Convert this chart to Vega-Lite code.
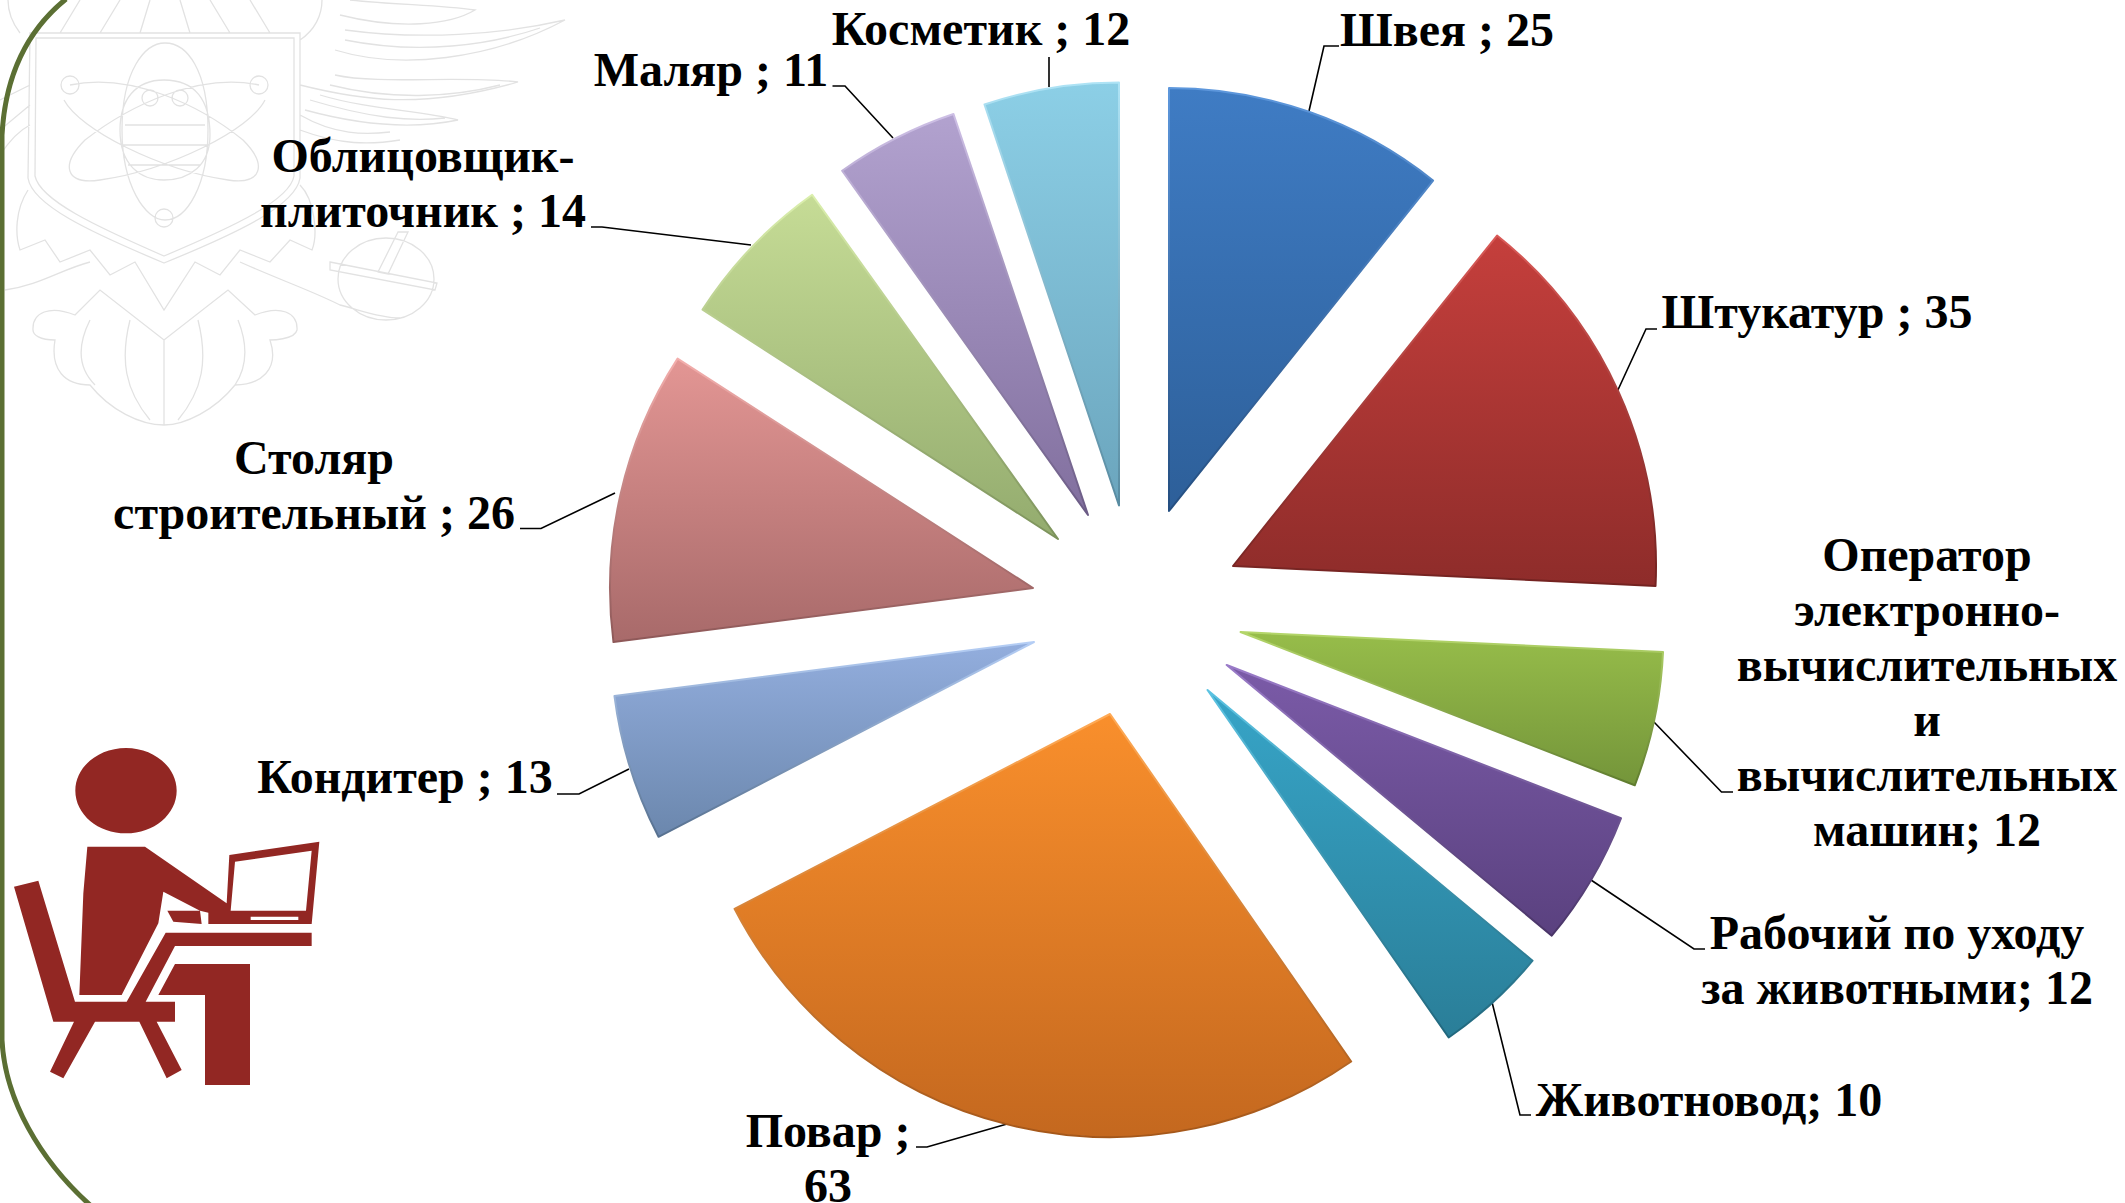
{"$schema":"https://vega.github.io/schema/vega-lite/v6.json","width":2125,"height":1203,"padding":0,"autosize":{"type":"none"},"background":"#ffffff","config":{"view":{"stroke":null}},
"data":{"values":[
{"order":1,"profession":"Швея","count":25,"label":"Швея ; 25"},
{"order":2,"profession":"Штукатур","count":35,"label":"Штукатур ; 35"},
{"order":3,"profession":"Оператор электронно-вычислительных и вычислительных машин","count":12,"label":"Оператор\nэлектронно-\nвычислительных\nи\nвычислительных\nмашин; 12"},
{"order":4,"profession":"Рабочий по уходу за животными","count":12,"label":"Рабочий по уходу\nза животными; 12"},
{"order":5,"profession":"Животновод","count":10,"label":"Животновод; 10"},
{"order":6,"profession":"Повар","count":63,"label":"Повар ;\n63"},
{"order":7,"profession":"Кондитер","count":13,"label":"Кондитер ; 13"},
{"order":8,"profession":"Столяр строительный","count":26,"label":"Столяр\nстроительный ; 26"},
{"order":9,"profession":"Облицовщик-плиточник","count":14,"label":"Облицовщик-\nплиточник ; 14"},
{"order":10,"profession":"Маляр","count":11,"label":"Маляр ; 11"},
{"order":11,"profession":"Косметик","count":12,"label":"Косметик ; 12"}
]},
"transform":[{"stack":"count","sort":[{"field":"order","order":"ascending"}],"as":["a0","a1"]}],
"layer":[
{"data":{"values":[{"part":"emblem"}]},"mark":{"type":"point","filled":false,"opacity":1,"size":4000000,"stroke":"#e2e2e2","strokeWidth":1.3,"shape":"M.030,.033 L.300,.033 L.300,.178 C.296,.205 .240,.232 .164,.263 C.090,.232 .032,.205 .028,.178 Z M.036,.038 L.294,.038 L.294,.176 C.290,.200 .235,.226 .164,.256 C.095,.226 .040,.200 .035,.176 Z M.122,.130 C.122,.070 .145,.043 .165,.043 C.187,.043 .208,.070 .208,.130 C.208,.185 .187,.220 .165,.220 C.145,.220 .122,.185 .122,.130 Z M.259,.085 C.200,.072 .130,.105 .085,.140 C.060,.165 .065,.185 .100,.180 C.170,.170 .250,.130 .265,.100 M.070,.085 C.130,.072 .200,.105 .243,.140 C.268,.165 .262,.185 .228,.180 C.160,.170 .080,.130 .064,.100 M.061,.085 A.009,.009 0 1 1 .079,.085 A.009,.009 0 1 1 .061,.085 Z M.250,.085 A.009,.009 0 1 1 .268,.085 A.009,.009 0 1 1 .250,.085 Z M.155,.218 A.009,.009 0 1 1 .173,.218 A.009,.009 0 1 1 .155,.218 Z M.120,.130 C.120,.100 .135,.080 .164,.080 C.195,.080 .210,.100 .210,.135 C.210,.165 .190,.180 .164,.180 C.140,.180 .120,.165 .120,.130 Z M.142,.098 A.008,.008 0 1 1 .158,.098 A.008,.008 0 1 1 .142,.098 Z M.172,.098 A.008,.008 0 1 1 .188,.098 A.008,.008 0 1 1 .172,.098 Z M.125,.125 L.205,.125 M.122,.145 L.208,.145 M.128,.165 L.200,.165 M.300,.085 C.360,.100 .420,.110 .518,.082 C.460,.075 .380,.085 .335,.075 M.305,.110 C.360,.125 .410,.130 .458,.120 C.420,.110 .370,.110 .320,.095 M.335,.050 C.400,.070 .490,.060 .565,.020 C.500,.035 .420,.040 .345,.030 M.340,.015 C.400,.030 .450,.025 .475,.010 C.440,.005 .400,.005 .350,.000 M.300,.130 C.340,.145 .370,.145 .400,.140 M.345,.040 C.420,.055 .490,.045 .540,.028 M.330,.085 C.390,.100 .450,.098 .500,.085 M.310,.100 C.370,.118 .410,.122 .445,.118 M.300,.115 C.335,.135 .365,.135 .390,.132 M.000,.155 C.010,.140 .020,.130 .030,.125 M.000,.100 L.030,.085 M.000,.130 L.030,.105 M.020,.033 C.010,.020 .008,.010 .008,.000 M.322,.000 C.322,.015 .315,.030 .300,.040 M.060,.033 L.080,.000 M.100,.033 L.120,.000 M.140,.033 L.150,.000 M.190,.033 L.180,.000 M.230,.033 L.210,.000 M.270,.033 L.250,.000 M.028,.190 C.015,.210 .015,.235 .020,.250 L.045,.240 L.060,.262 L.090,.250 L.110,.275 L.135,.262 L.164,.310 L.195,.262 L.220,.275 L.240,.250 L.270,.262 L.290,.240 L.312,.250 C.318,.235 .315,.200 .300,.185 M.033,.330 C.032,.312 .050,.305 .075,.315 L.100,.290 L.164,.340 L.228,.290 L.255,.315 C.280,.305 .298,.312 .297,.330 C.295,.340 .270,.340 .270,.340 C.280,.370 .260,.385 .235,.385 C.215,.410 .185,.425 .164,.425 C.140,.425 .110,.410 .090,.385 C.065,.385 .050,.370 .055,.340 C.040,.340 .033,.335 .033,.330 Z M.164,.340 L.164,.425 M.130,.320 C.120,.360 .125,.390 .150,.420 M.198,.320 C.208,.360 .203,.390 .178,.420 M.090,.320 C.075,.350 .080,.370 .095,.385 M.238,.320 C.250,.350 .245,.370 .235,.385 M.005,.290 C.040,.285 .060,.270 .090,.262 M.240,.262 C.280,.280 .310,.290 .340,.305 C.360,.310 .380,.318 .400,.318 M.338,.279 A.048,.041 0 1 1 .434,.279 A.048,.041 0 1 1 .338,.279 Z M.330,.262 L.437,.283 L.435,.290 L.330,.270 Z M.398,.232 L.378,.272 L.388,.274 L.408,.232 Z"},"encoding":{"x":{"datum":0,"type":"quantitative","scale":{"domain":[0,2125]},"axis":null},"y":{"datum":0,"type":"quantitative","scale":{"domain":[1203,0]},"axis":null}}},
{"data":{"values":[{"part":"border"}]},"mark":{"type":"point","filled":false,"opacity":1,"size":4000000,"stroke":"#5b6f33","strokeWidth":5,"shape":"M.066,-.001 C.040,.020 .006,.060 .002,.135 L.002,1.040 C.005,1.100 .040,1.160 .090,1.205"},"encoding":{"x":{"datum":0,"type":"quantitative","scale":{"domain":[0,2125]},"axis":null},"y":{"datum":0,"type":"quantitative","scale":{"domain":[1203,0]},"axis":null}}},
{"data":{"values":[{"part":"icon"}]},"mark":{"type":"point","filled":true,"opacity":1,"size":444444.4,"fill":"#922723","stroke":null,"shape":"M.226,.212 A.152,.128 0 1 1 .530,.212 A.152,.128 0 1 1 .226,.212 Z M.262,.380 L.435,.380 L.680,.550 L.625,.578 L.600,.572 L.490,.515 L.475,.610 L.365,.825 L.238,.825 L.250,.520 Z M.688,.405 L.958,.365 L.935,.612 L.625,.612 L.625,.575 L.680,.550 Z M.705,.425 L.692,.572 L.918,.572 L.935,.392 Z M.752,.590 L.752,.600 L.895,.600 L.895,.590 Z M.502,.572 L.600,.572 L.605,.612 L.520,.605 Z M.497,.638 L.935,.638 L.935,.678 L.525,.678 L.437,.845 L.380,.845 Z M.042,.500 L.115,.482 L.225,.845 L.525,.845 L.525,.905 L.160,.905 Z M.222,.905 L.285,.905 L.190,1.075 L.150,1.055 Z M.418,.905 L.470,.905 L.545,1.050 L.500,1.075 Z M.525,.732 L.750,.732 L.750,1.095 L.615,1.095 L.615,.825 L.475,.825 Z"},"encoding":{"x":{"datum":0,"type":"quantitative","scale":{"domain":[0,2125]},"axis":null},"y":{"datum":720,"type":"quantitative","scale":{"domain":[1203,0]},"axis":null}}},
{"data":{"values":[{"part":"leaders"}]},"mark":{"type":"point","filled":false,"opacity":1,"size":4000000,"stroke":"#000000","strokeWidth":1.6,"shape":"M1.309,.111 L1.324,.046 L1.339,.046 M1.617,.392 L1.646,.329 L1.657,.329 M1.653,.721 L1.7215,.792 L1.733,.792 M1.591,.880 L1.694,.949 L1.705,.949 M1.492,1.002 L1.520,1.115 L1.531,1.115 M1.007,1.124 L.927,1.147 L.916,1.147 M.629,.769 L.579,.794 L.557,.794 M.615,.493 L.541,.5285 L.520,.5285 M.751,.245 L.602,.227 L.591,.227 M.893,.138 L.845,.086 L.8325,.086 M1.049,.087 L1.049,.057"},"encoding":{"x":{"datum":0,"type":"quantitative","scale":{"domain":[0,2125]},"axis":null},"y":{"datum":0,"type":"quantitative","scale":{"domain":[1203,0]},"axis":null}}},

{"transform":[{"filter":"datum.order==1"}],"mark":{"type":"arc","outerRadius":423,"strokeWidth":2,"strokeJoin":"round","fill":{"gradient":"linear","x1":0,"y1":0,"x2":0,"y2":1,"stops":[{"offset":0,"color":"#3f7cc4"},{"offset":1,"color":"#2d5f99"}]},"stroke":{"gradient":"linear","x1":0,"y1":0,"x2":0,"y2":1,"stops":[{"offset":0,"color":"#5d97dc"},{"offset":1,"color":"#244e80"}]}},"encoding":{"x":{"datum":1169,"type":"quantitative","scale":{"domain":[0,2125]},"axis":null},"y":{"datum":511,"type":"quantitative","scale":{"domain":[1203,0]},"axis":null},"theta":{"field":"a0","type":"quantitative","scale":{"domain":[0,233],"range":[0,6.28319]}},"theta2":{"field":"a1"}}},
{"transform":[{"filter":"datum.order==2"}],"mark":{"type":"arc","outerRadius":423,"strokeWidth":2,"strokeJoin":"round","fill":{"gradient":"linear","x1":0,"y1":0,"x2":0,"y2":1,"stops":[{"offset":0,"color":"#c53f3c"},{"offset":1,"color":"#8e2c2a"}]},"stroke":{"gradient":"linear","x1":0,"y1":0,"x2":0,"y2":1,"stops":[{"offset":0,"color":"#d95a57"},{"offset":1,"color":"#732220"}]}},"encoding":{"x":{"datum":1233,"type":"quantitative","scale":{"domain":[0,2125]},"axis":null},"y":{"datum":566,"type":"quantitative","scale":{"domain":[1203,0]},"axis":null},"theta":{"field":"a0","type":"quantitative","scale":{"domain":[0,233],"range":[0,6.28319]}},"theta2":{"field":"a1"}}},
{"transform":[{"filter":"datum.order==3"}],"mark":{"type":"arc","outerRadius":423,"strokeWidth":2,"strokeJoin":"round","fill":{"gradient":"linear","x1":0,"y1":0,"x2":0,"y2":1,"stops":[{"offset":0,"color":"#97bd4a"},{"offset":1,"color":"#74953a"}]},"stroke":{"gradient":"linear","x1":0,"y1":0,"x2":0,"y2":1,"stops":[{"offset":0,"color":"#b4d66a"},{"offset":1,"color":"#5f7c2e"}]}},"encoding":{"x":{"datum":1240.5,"type":"quantitative","scale":{"domain":[0,2125]},"axis":null},"y":{"datum":632,"type":"quantitative","scale":{"domain":[1203,0]},"axis":null},"theta":{"field":"a0","type":"quantitative","scale":{"domain":[0,233],"range":[0,6.28319]}},"theta2":{"field":"a1"}}},
{"transform":[{"filter":"datum.order==4"}],"mark":{"type":"arc","outerRadius":423,"strokeWidth":2,"strokeJoin":"round","fill":{"gradient":"linear","x1":0,"y1":0,"x2":0,"y2":1,"stops":[{"offset":0,"color":"#7b5ba8"},{"offset":1,"color":"#5a417f"}]},"stroke":{"gradient":"linear","x1":0,"y1":0,"x2":0,"y2":1,"stops":[{"offset":0,"color":"#9a7bc8"},{"offset":1,"color":"#493467"}]}},"encoding":{"x":{"datum":1226.7,"type":"quantitative","scale":{"domain":[0,2125]},"axis":null},"y":{"datum":665,"type":"quantitative","scale":{"domain":[1203,0]},"axis":null},"theta":{"field":"a0","type":"quantitative","scale":{"domain":[0,233],"range":[0,6.28319]}},"theta2":{"field":"a1"}}},
{"transform":[{"filter":"datum.order==5"}],"mark":{"type":"arc","outerRadius":423,"strokeWidth":2,"strokeJoin":"round","fill":{"gradient":"linear","x1":0,"y1":0,"x2":0,"y2":1,"stops":[{"offset":0,"color":"#37a5c8"},{"offset":1,"color":"#2a7e98"}]},"stroke":{"gradient":"linear","x1":0,"y1":0,"x2":0,"y2":1,"stops":[{"offset":0,"color":"#5cc3e2"},{"offset":1,"color":"#20677d"}]}},"encoding":{"x":{"datum":1207.5,"type":"quantitative","scale":{"domain":[0,2125]},"axis":null},"y":{"datum":690,"type":"quantitative","scale":{"domain":[1203,0]},"axis":null},"theta":{"field":"a0","type":"quantitative","scale":{"domain":[0,233],"range":[0,6.28319]}},"theta2":{"field":"a1"}}},
{"transform":[{"filter":"datum.order==6"}],"mark":{"type":"arc","outerRadius":423,"strokeWidth":2,"strokeJoin":"round","fill":{"gradient":"linear","x1":0,"y1":0,"x2":0,"y2":1,"stops":[{"offset":0,"color":"#f98f2c"},{"offset":1,"color":"#c4681f"}]},"stroke":{"gradient":"linear","x1":0,"y1":0,"x2":0,"y2":1,"stops":[{"offset":0,"color":"#ffaa55"},{"offset":1,"color":"#a55719"}]}},"encoding":{"x":{"datum":1110,"type":"quantitative","scale":{"domain":[0,2125]},"axis":null},"y":{"datum":714,"type":"quantitative","scale":{"domain":[1203,0]},"axis":null},"theta":{"field":"a0","type":"quantitative","scale":{"domain":[0,233],"range":[0,6.28319]}},"theta2":{"field":"a1"}}},
{"transform":[{"filter":"datum.order==7"}],"mark":{"type":"arc","outerRadius":423,"strokeWidth":2,"strokeJoin":"round","fill":{"gradient":"linear","x1":0,"y1":0,"x2":0,"y2":1,"stops":[{"offset":0,"color":"#93aede"},{"offset":1,"color":"#6b87ad"}]},"stroke":{"gradient":"linear","x1":0,"y1":0,"x2":0,"y2":1,"stops":[{"offset":0,"color":"#b5cef5"},{"offset":1,"color":"#56708f"}]}},"encoding":{"x":{"datum":1034,"type":"quantitative","scale":{"domain":[0,2125]},"axis":null},"y":{"datum":642,"type":"quantitative","scale":{"domain":[1203,0]},"axis":null},"theta":{"field":"a0","type":"quantitative","scale":{"domain":[0,233],"range":[0,6.28319]}},"theta2":{"field":"a1"}}},
{"transform":[{"filter":"datum.order==8"}],"mark":{"type":"arc","outerRadius":423,"strokeWidth":2,"strokeJoin":"round","fill":{"gradient":"linear","x1":0,"y1":0,"x2":0,"y2":1,"stops":[{"offset":0,"color":"#e39694"},{"offset":1,"color":"#a86a6a"}]},"stroke":{"gradient":"linear","x1":0,"y1":0,"x2":0,"y2":1,"stops":[{"offset":0,"color":"#f3aeac"},{"offset":1,"color":"#8e5858"}]}},"encoding":{"x":{"datum":1033,"type":"quantitative","scale":{"domain":[0,2125]},"axis":null},"y":{"datum":588,"type":"quantitative","scale":{"domain":[1203,0]},"axis":null},"theta":{"field":"a0","type":"quantitative","scale":{"domain":[0,233],"range":[0,6.28319]}},"theta2":{"field":"a1"}}},
{"transform":[{"filter":"datum.order==9"}],"mark":{"type":"arc","outerRadius":423,"strokeWidth":2,"strokeJoin":"round","fill":{"gradient":"linear","x1":0,"y1":0,"x2":0,"y2":1,"stops":[{"offset":0,"color":"#c6dc96"},{"offset":1,"color":"#93ab6e"}]},"stroke":{"gradient":"linear","x1":0,"y1":0,"x2":0,"y2":1,"stops":[{"offset":0,"color":"#dbefad"},{"offset":1,"color":"#7c925b"}]}},"encoding":{"x":{"datum":1058,"type":"quantitative","scale":{"domain":[0,2125]},"axis":null},"y":{"datum":539,"type":"quantitative","scale":{"domain":[1203,0]},"axis":null},"theta":{"field":"a0","type":"quantitative","scale":{"domain":[0,233],"range":[0,6.28319]}},"theta2":{"field":"a1"}}},
{"transform":[{"filter":"datum.order==10"}],"mark":{"type":"arc","outerRadius":423,"strokeWidth":2,"strokeJoin":"round","fill":{"gradient":"linear","x1":0,"y1":0,"x2":0,"y2":1,"stops":[{"offset":0,"color":"#b2a2cf"},{"offset":1,"color":"#816f9e"}]},"stroke":{"gradient":"linear","x1":0,"y1":0,"x2":0,"y2":1,"stops":[{"offset":0,"color":"#cdbfe5"},{"offset":1,"color":"#6b5b85"}]}},"encoding":{"x":{"datum":1088,"type":"quantitative","scale":{"domain":[0,2125]},"axis":null},"y":{"datum":515,"type":"quantitative","scale":{"domain":[1203,0]},"axis":null},"theta":{"field":"a0","type":"quantitative","scale":{"domain":[0,233],"range":[0,6.28319]}},"theta2":{"field":"a1"}}},
{"transform":[{"filter":"datum.order==11"}],"mark":{"type":"arc","outerRadius":423,"strokeWidth":2,"strokeJoin":"round","fill":{"gradient":"linear","x1":0,"y1":0,"x2":0,"y2":1,"stops":[{"offset":0,"color":"#8ccfe6"},{"offset":1,"color":"#6ba5bd"}]},"stroke":{"gradient":"linear","x1":0,"y1":0,"x2":0,"y2":1,"stops":[{"offset":0,"color":"#aee3f5"},{"offset":1,"color":"#588ba1"}]}},"encoding":{"x":{"datum":1119,"type":"quantitative","scale":{"domain":[0,2125]},"axis":null},"y":{"datum":505.5,"type":"quantitative","scale":{"domain":[1203,0]},"axis":null},"theta":{"field":"a0","type":"quantitative","scale":{"domain":[0,233],"range":[0,6.28319]}},"theta2":{"field":"a1"}}},

{"transform":[{"filter":"datum.order==1"}],"mark":{"type":"text","font":"Liberation Serif","fontWeight":"bold","fontSize":48,"lineHeight":55,"lineBreak":"\n","align":"center","baseline":"middle","fill":"#000000"},"encoding":{"x":{"datum":1447,"type":"quantitative","scale":{"domain":[0,2125]},"axis":null},"y":{"datum":32,"type":"quantitative","scale":{"domain":[1203,0]},"axis":null},"text":{"field":"label"}}},
{"transform":[{"filter":"datum.order==2"}],"mark":{"type":"text","font":"Liberation Serif","fontWeight":"bold","fontSize":48,"lineHeight":55,"lineBreak":"\n","align":"center","baseline":"middle","fill":"#000000"},"encoding":{"x":{"datum":1817,"type":"quantitative","scale":{"domain":[0,2125]},"axis":null},"y":{"datum":314,"type":"quantitative","scale":{"domain":[1203,0]},"axis":null},"text":{"field":"label"}}},
{"transform":[{"filter":"datum.order==3"}],"mark":{"type":"text","font":"Liberation Serif","fontWeight":"bold","fontSize":48,"lineHeight":55,"lineBreak":"\n","align":"center","baseline":"middle","fill":"#000000"},"encoding":{"x":{"datum":1927,"type":"quantitative","scale":{"domain":[0,2125]},"axis":null},"y":{"datum":557,"type":"quantitative","scale":{"domain":[1203,0]},"axis":null},"text":{"field":"label"}}},
{"transform":[{"filter":"datum.order==4"}],"mark":{"type":"text","font":"Liberation Serif","fontWeight":"bold","fontSize":48,"lineHeight":55,"lineBreak":"\n","align":"center","baseline":"middle","fill":"#000000"},"encoding":{"x":{"datum":1897,"type":"quantitative","scale":{"domain":[0,2125]},"axis":null},"y":{"datum":935,"type":"quantitative","scale":{"domain":[1203,0]},"axis":null},"text":{"field":"label"}}},
{"transform":[{"filter":"datum.order==5"}],"mark":{"type":"text","font":"Liberation Serif","fontWeight":"bold","fontSize":48,"lineHeight":55,"lineBreak":"\n","align":"center","baseline":"middle","fill":"#000000"},"encoding":{"x":{"datum":1709,"type":"quantitative","scale":{"domain":[0,2125]},"axis":null},"y":{"datum":1102,"type":"quantitative","scale":{"domain":[1203,0]},"axis":null},"text":{"field":"label"}}},
{"transform":[{"filter":"datum.order==6"}],"mark":{"type":"text","font":"Liberation Serif","fontWeight":"bold","fontSize":48,"lineHeight":55,"lineBreak":"\n","align":"center","baseline":"middle","fill":"#000000"},"encoding":{"x":{"datum":828,"type":"quantitative","scale":{"domain":[0,2125]},"axis":null},"y":{"datum":1133,"type":"quantitative","scale":{"domain":[1203,0]},"axis":null},"text":{"field":"label"}}},
{"transform":[{"filter":"datum.order==7"}],"mark":{"type":"text","font":"Liberation Serif","fontWeight":"bold","fontSize":48,"lineHeight":55,"lineBreak":"\n","align":"center","baseline":"middle","fill":"#000000"},"encoding":{"x":{"datum":405,"type":"quantitative","scale":{"domain":[0,2125]},"axis":null},"y":{"datum":779,"type":"quantitative","scale":{"domain":[1203,0]},"axis":null},"text":{"field":"label"}}},
{"transform":[{"filter":"datum.order==8"}],"mark":{"type":"text","font":"Liberation Serif","fontWeight":"bold","fontSize":48,"lineHeight":55,"lineBreak":"\n","align":"center","baseline":"middle","fill":"#000000"},"encoding":{"x":{"datum":314,"type":"quantitative","scale":{"domain":[0,2125]},"axis":null},"y":{"datum":460,"type":"quantitative","scale":{"domain":[1203,0]},"axis":null},"text":{"field":"label"}}},
{"transform":[{"filter":"datum.order==9"}],"mark":{"type":"text","font":"Liberation Serif","fontWeight":"bold","fontSize":48,"lineHeight":55,"lineBreak":"\n","align":"center","baseline":"middle","fill":"#000000"},"encoding":{"x":{"datum":423,"type":"quantitative","scale":{"domain":[0,2125]},"axis":null},"y":{"datum":158,"type":"quantitative","scale":{"domain":[1203,0]},"axis":null},"text":{"field":"label"}}},
{"transform":[{"filter":"datum.order==10"}],"mark":{"type":"text","font":"Liberation Serif","fontWeight":"bold","fontSize":48,"lineHeight":55,"lineBreak":"\n","align":"center","baseline":"middle","fill":"#000000"},"encoding":{"x":{"datum":711,"type":"quantitative","scale":{"domain":[0,2125]},"axis":null},"y":{"datum":72,"type":"quantitative","scale":{"domain":[1203,0]},"axis":null},"text":{"field":"label"}}},
{"transform":[{"filter":"datum.order==11"}],"mark":{"type":"text","font":"Liberation Serif","fontWeight":"bold","fontSize":48,"lineHeight":55,"lineBreak":"\n","align":"center","baseline":"middle","fill":"#000000"},"encoding":{"x":{"datum":981,"type":"quantitative","scale":{"domain":[0,2125]},"axis":null},"y":{"datum":31,"type":"quantitative","scale":{"domain":[1203,0]},"axis":null},"text":{"field":"label"}}}
],
"resolve":{"scale":{"x":"shared","y":"shared"}}}
